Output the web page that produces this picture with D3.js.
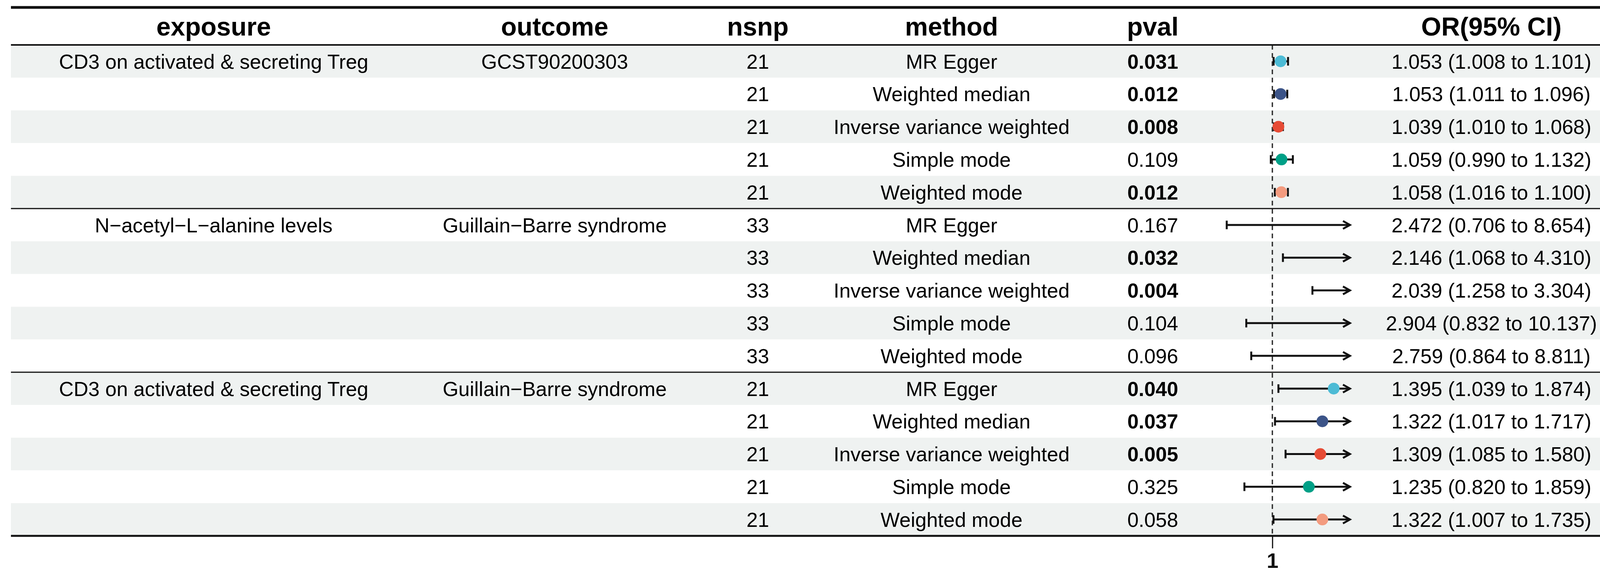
<!DOCTYPE html>
<html>
<head>
<meta charset="utf-8">
<script src="https://cdn.jsdelivr.net/npm/d3@7"></script>
<style>
  body { margin: 0; background: #fff; }
  text { font-family: "Liberation Sans", Arial, sans-serif; }
</style>
</head>
<body>
<div id="chart"></div>
<script>
var svgWidth = 4212;
var svgHeight = 1485;

// table data
var headers = ["exposure", "outcome", "nsnp", "method", "pval", "", "OR(95% CI)"];
var groupExposure = ["CD3 on activated & secreting Treg", "N\u2212acetyl\u2212L\u2212alanine levels", "CD3 on activated & secreting Treg"];
var groupOutcome = ["GCST90200303", "Guillain\u2212Barre syndrome", "Guillain\u2212Barre syndrome"];
var methods = ["MR Egger", "Weighted median", "Inverse variance weighted", "Simple mode", "Weighted mode"];
var nsnp = [21, 21, 21, 21, 21, 33, 33, 33, 33, 33, 21, 21, 21, 21, 21];
var pvals = ["0.031", "0.012", "0.008", "0.109", "0.012",
             "0.167", "0.032", "0.004", "0.104", "0.096",
             "0.040", "0.037", "0.005", "0.325", "0.058"];
var orVals = [1.053, 1.053, 1.039, 1.059, 1.058,
              2.472, 2.146, 2.039, 2.904, 2.759,
              1.395, 1.322, 1.309, 1.235, 1.322];
var lowVals = [1.008, 1.011, 1.010, 0.990, 1.016,
               0.706, 1.068, 1.258, 0.832, 0.864,
               1.039, 1.017, 1.085, 0.820, 1.007];
var highVals = [1.101, 1.096, 1.068, 1.132, 1.100,
                8.654, 4.310, 3.304, 10.137, 8.811,
                1.874, 1.717, 1.580, 1.859, 1.735];
var ciLabels = ["1.053 (1.008 to 1.101)", "1.053 (1.011 to 1.096)", "1.039 (1.010 to 1.068)", "1.059 (0.990 to 1.132)", "1.058 (1.016 to 1.100)",
                "2.472 (0.706 to 8.654)", "2.146 (1.068 to 4.310)", "2.039 (1.258 to 3.304)", "2.904 (0.832 to 10.137)", "2.759 (0.864 to 8.811)",
                "1.395 (1.039 to 1.874)", "1.322 (1.017 to 1.717)", "1.309 (1.085 to 1.580)", "1.235 (0.820 to 1.859)", "1.322 (1.007 to 1.735)"];
var xLimits = [0.7, 1.5];
var xTicks = [1];
var methodColors = ["#4DBBD5", "#3C5488", "#E64B35", "#00A087", "#F39B7F"];

// layout
var left = 28, right = 4183;
var topRule = 19, headY = 115;
var rowH = 83.8;
var nRows = nsnp.length;
var bottomY = headY + rowH * nRows;
var colX = [547, 1420, 1940, 2436, 2951, 3297, 3818];

var rows = nsnp.map(function(n, i) {
  var g = Math.floor(i / 5);
  return {
    i: i,
    exposure: i % 5 === 0 ? groupExposure[g] : "",
    outcome: i % 5 === 0 ? groupOutcome[g] : "",
    nsnp: n,
    method: methods[i % 5],
    pval: pvals[i],
    or: orVals[i], lo: lowVals[i], hi: highVals[i],
    label: ciLabels[i],
    color: methodColors[i % 5]
  };
});

var svg = d3.select("#chart")
  .append("svg")
  .attr("width", svgWidth)
  .attr("height", svgHeight);

svg.append("rect").attr("width", svgWidth).attr("height", svgHeight).attr("fill", "#fff");

var y = d3.scaleBand()
  .domain(d3.range(nRows))
  .range([headY, bottomY]);

var x = d3.scaleLinear()
  .domain(xLimits)
  .range([3138, 3456]);

// row bands
svg.selectAll(".band")
  .data(rows)
  .enter()
  .append("rect")
  .attr("x", left)
  .attr("y", d => y(d.i))
  .attr("width", right - left)
  .attr("height", y.bandwidth())
  .attr("fill", d => d.i % 2 === 0 ? "#EFF2F1" : "#FFFFFF");

// header
svg.selectAll(".head")
  .data(headers)
  .enter()
  .append("text")
  .attr("x", (d, i) => colX[i])
  .attr("y", (topRule + headY) / 2)
  .attr("dy", "0.36em")
  .attr("text-anchor", "middle")
  .attr("font-size", 66)
  .attr("font-weight", "bold")
  .text(d => d);

// body cells
var cellKeys = ["exposure", "outcome", "nsnp", "method", "pval"];
cellKeys.forEach(function(key, k) {
  svg.selectAll(".c" + k)
    .data(rows)
    .enter()
    .append("text")
    .attr("x", colX[k])
    .attr("y", d => y(d.i) + y.bandwidth() / 2)
    .attr("dy", "0.36em")
    .attr("text-anchor", "middle")
    .attr("font-size", 52)
    .attr("font-weight", d => (key === "pval" && +d.pval < 0.05) ? "bold" : "normal")
    .text(d => d[key]);
});

svg.selectAll(".ci-label")
  .data(rows)
  .enter()
  .append("text")
  .attr("x", colX[6])
  .attr("y", d => y(d.i) + y.bandwidth() / 2)
  .attr("dy", "0.36em")
  .attr("text-anchor", "middle")
  .attr("font-size", 52)
  .text(d => d.label);

// reference line
svg.append("line")
  .attr("x1", x(1)).attr("x2", x(1))
  .attr("y1", headY).attr("y2", bottomY)
  .attr("stroke", "#333")
  .attr("stroke-width", 3.5)
  .attr("stroke-dasharray", "12,9");

// error bars
var bars = svg.selectAll(".bar")
  .data(rows)
  .enter()
  .append("g")
  .attr("transform", d => `translate(0, ${y(d.i) + y.bandwidth() / 2})`);

bars.append("line")
  .attr("x1", d => x(Math.max(d.lo, xLimits[0])))
  .attr("x2", d => x(Math.min(d.hi, xLimits[1])))
  .attr("stroke", "#111")
  .attr("stroke-width", 5);

bars.filter(d => d.lo >= xLimits[0])
  .append("line")
  .attr("x1", d => x(d.lo)).attr("x2", d => x(d.lo))
  .attr("y1", -11).attr("y2", 11)
  .attr("stroke", "#111")
  .attr("stroke-width", 5);

bars.filter(d => d.hi <= xLimits[1])
  .append("line")
  .attr("x1", d => x(d.hi)).attr("x2", d => x(d.hi))
  .attr("y1", -11).attr("y2", 11)
  .attr("stroke", "#111")
  .attr("stroke-width", 5);

bars.filter(d => d.hi > xLimits[1])
  .append("path")
  .attr("d", function() {
    var xe = x(xLimits[1]);
    return `M${xe - 18},-10 L${xe},0 L${xe - 18},10`;
  })
  .attr("fill", "none")
  .attr("stroke", "#111")
  .attr("stroke-width", 5);

bars.filter(d => d.or >= xLimits[0] && d.or <= xLimits[1])
  .append("circle")
  .attr("cx", d => x(d.or))
  .attr("r", 15)
  .attr("fill", d => d.color);

// x axis (only the tick at 1, the line sits under the bottom rule)
var axis = svg.append("g")
  .attr("transform", `translate(0, ${bottomY})`)
  .call(d3.axisBottom(x).tickValues(xTicks).tickFormat(d3.format("d"))
    .tickSizeInner(32).tickSizeOuter(0).tickPadding(12));
axis.select(".domain").remove();
axis.selectAll(".tick line").attr("stroke", "#111").attr("stroke-width", 3);
axis.selectAll(".tick text")
  .attr("font-size", 54)
  .attr("font-weight", "bold")
  .attr("fill", "#111")
  .attr("font-family", "Liberation Sans, Arial, sans-serif");

// table rules
var rules = [
  { y: topRule, w: 7 },
  { y: headY, w: 4 },
  { y: headY + rowH * 5, w: 3 },
  { y: headY + rowH * 10, w: 3 },
  { y: bottomY, w: 5 }
];
svg.selectAll(".rule")
  .data(rules)
  .enter()
  .append("line")
  .attr("x1", left).attr("x2", right)
  .attr("y1", d => d.y).attr("y2", d => d.y)
  .attr("stroke", "#111")
  .attr("stroke-width", d => d.w);
</script>
</body>
</html>
